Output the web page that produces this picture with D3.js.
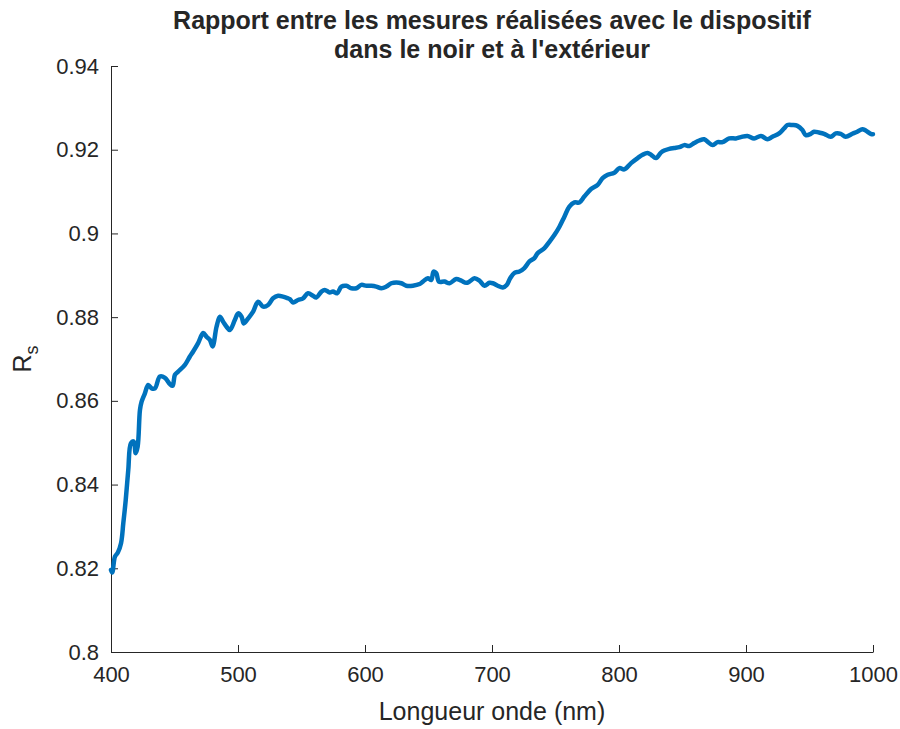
<!DOCTYPE html>
<html>
<head>
<meta charset="utf-8">
<script src="https://cdn.jsdelivr.net/npm/d3@7"></script>
<style>
  body { margin: 0; background: #fff; }
  svg text { font-family: "Liberation Sans", Arial, Helvetica, sans-serif; fill: #262626; }
</style>
</head>
<body>
<svg id="chart" width="900" height="729"></svg>
<script>
// Wavelength samples (nm)
const wavelength = [
  400, 401, 403.1, 405.3, 407.9, 409.7, 411.6, 413.6, 415.7, 417.9, 419.4, 421.0, 422.8, 424.1,
  426.7, 429.3, 432.0, 434.6, 438.5, 442.5, 446.4, 448.5, 450.3, 452.9, 458.2, 462.1, 464.7,
  468.6, 472.6, 475.3, 477.8, 480.0, 483.1, 485.7, 488.3, 491.0, 493.6, 497.5, 500.1, 502.8,
  504.6, 508.0, 511.9, 515.8, 519.8, 523.7, 527.6, 531.6, 535.5, 539.4, 540.8, 543.4, 547.3,
  551.2, 555.1, 559.1, 561.7, 565.7, 568.3, 572.2, 574.8, 578.0, 581.4, 585.3, 589.3, 593.2,
  597.1, 601.1, 605.0, 608.9, 612.9, 616.8, 620.7, 624.7, 628.6, 632.5, 637.7, 643.0, 645.6,
  649.5, 652.2, 654.0, 656.1, 658.2, 662.6, 666.6, 671.8, 675.8, 679.7, 682.3, 686.2, 690.2,
  694.1, 698.0, 700.6, 704.5, 708.5, 711.6, 714.3, 717.7, 721.6, 725.5, 729.5, 733.4, 736.0,
  741.3, 745.2, 749.1, 753.1, 757.0, 760.9, 764.9, 768.8, 772.7, 778.0, 783.2, 787.1, 791.1,
  796.3, 800.3, 804.2, 809.5, 814.7, 818.6, 822.5, 825.2, 829.1, 833.0, 835.6, 839.6, 843.5,
  847.5, 851.4, 855.3, 859.2, 863.2, 867.1, 871.0, 873.6, 877.6, 881.5, 886.8, 892.0, 895.9,
  901.1, 906.4, 911.7, 916.9, 920.8, 926.1, 930.0, 932.6, 936.5, 940.5, 944.4, 947.1, 951.0,
  953.6, 957.5, 961.5, 966.7, 970.7, 974.6, 978.5, 983.7, 987.6, 991.6, 994.2, 998.2, 1000
];

// Ratio R_s (dark / outdoor measurements)
const ratio = [
  0.8196, 0.8190, 0.8228, 0.8237, 0.8260, 0.8308, 0.8363, 0.8435, 0.8499, 0.8503, 0.8475, 0.8491, 0.8578, 0.8598,
  0.8618, 0.8638, 0.8630, 0.8630, 0.8658, 0.8655, 0.8640, 0.8636, 0.8662, 0.8670, 0.8686, 0.8706, 0.8718,
  0.8738, 0.8762, 0.8753, 0.8746, 0.8730, 0.8777, 0.8801, 0.8789, 0.8777, 0.8769, 0.8793, 0.8809, 0.8801,
  0.8785, 0.8797, 0.8813, 0.8837, 0.8825, 0.8829, 0.8845, 0.8851, 0.8849, 0.8845, 0.8843, 0.8835, 0.8841,
  0.8845, 0.8857, 0.8851, 0.8847, 0.8861, 0.8865, 0.8859, 0.8861, 0.8857, 0.8873, 0.8875, 0.8869, 0.8869,
  0.8877, 0.8875, 0.8875, 0.8873, 0.8869, 0.8873, 0.8881, 0.8883, 0.8881, 0.8875, 0.8875, 0.8879, 0.8885,
  0.8893, 0.8889, 0.8909, 0.8905, 0.8885, 0.8885, 0.8881, 0.8891, 0.8887, 0.8882, 0.8885, 0.8893, 0.8887,
  0.8875, 0.8882, 0.8881, 0.8875, 0.8871, 0.8877, 0.8893, 0.8906, 0.8909, 0.8917, 0.8933, 0.8941, 0.8953,
  0.8965, 0.8980, 0.8996, 0.9016, 0.9040, 0.9064, 0.9074, 0.9074, 0.9088, 0.9106, 0.9116, 0.9132, 0.9140,
  0.9145, 0.9156, 0.9153, 0.9168, 0.9180, 0.9188, 0.9192, 0.9188, 0.9180, 0.9193, 0.9198, 0.9202, 0.9204,
  0.9206, 0.9211, 0.9209, 0.9216, 0.9222, 0.9225, 0.9216, 0.9211, 0.9218, 0.9218, 0.9227, 0.9227, 0.9230,
  0.9233, 0.9227, 0.9233, 0.9225, 0.9231, 0.9239, 0.9251, 0.9259, 0.9259, 0.9257, 0.9247, 0.9235, 0.9238,
  0.9243, 0.9241, 0.9238, 0.9231, 0.9239, 0.9238, 0.9231, 0.9238, 0.9243, 0.9249, 0.9246, 0.9238, 0.9237
];

const xTicks = [400, 500, 600, 700, 800, 900, 1000];
const yTicks = [0.8, 0.82, 0.84, 0.86, 0.88, 0.9, 0.92, 0.94];
const titleLines = ["Rapport entre les mesures réalisées avec le dispositif", "dans le noir et à l'extérieur"];
const xLabel = "Longueur onde (nm)";

const margin = { left: 111, right: 27, top: 66, bottom: 77 };
const W = 900, H = 729;
const innerW = W - margin.left - margin.right;
const innerH = H - margin.top - margin.bottom;

const svg = d3.select("#chart");
const g = svg.append("g").attr("transform", `translate(${margin.left},${margin.top})`);

const x = d3.scaleLinear().domain([400, 1000]).range([0, innerW]);
const y = d3.scaleLinear().domain([0.8, 0.94]).range([innerH, 0]);

const axisColor = "#262626";

// Bottom axis with inward ticks
const xAxis = g.append("g")
  .attr("transform", `translate(0,${innerH})`)
  .call(d3.axisBottom(x).tickValues(xTicks).tickSizeInner(-7).tickSizeOuter(0).tickPadding(14)
    .tickFormat(d3.format("d")));
xAxis.selectAll("text").attr("font-size", 22).attr("fill", axisColor);

// Left axis with inward ticks
const yAxis = g.append("g")
  .call(d3.axisLeft(y).tickValues(yTicks).tickSizeInner(-7).tickSizeOuter(0).tickPadding(12)
    .tickFormat(d => String(+d.toFixed(2))));
yAxis.selectAll("text").attr("font-size", 22).attr("fill", axisColor);

[xAxis, yAxis].forEach(a => {
  a.select(".domain").attr("stroke", axisColor).attr("stroke-width", 1);
  a.selectAll(".tick line").attr("stroke", axisColor).attr("stroke-width", 1);
});

// Data line
const line = d3.line().x((d, i) => x(wavelength[i])).y(d => y(d)).curve(d3.curveCatmullRom.alpha(0.5));
g.append("path")
  .datum(ratio)
  .attr("fill", "none")
  .attr("stroke", "#0072BD")
  .attr("stroke-width", 4.5)
  .attr("stroke-linejoin", "round")
  .attr("stroke-linecap", "round")
  .attr("d", line);

// Title
const title = svg.append("text")
  .attr("x", margin.left + innerW / 2)
  .attr("text-anchor", "middle")
  .attr("font-size", 25)
  .attr("font-weight", "bold")
  .attr("fill", "#000");
titleLines.forEach((t, i) => {
  title.append("tspan").attr("x", margin.left + innerW / 2).attr("y", 29 + i * 29).text(t);
});

// X axis label
svg.append("text")
  .attr("x", margin.left + innerW / 2)
  .attr("y", 720)
  .attr("text-anchor", "middle")
  .attr("font-size", 25)
  .text(xLabel);

// Y axis label: R with subscript s
const yl = svg.append("text")
  .attr("transform", `translate(31,${margin.top + innerH / 2}) rotate(-90)`)
  .attr("text-anchor", "middle")
  .attr("font-size", 25);
yl.append("tspan").text("R");
yl.append("tspan").attr("font-size", 18).attr("dy", 7).text("s");
</script>
</body>
</html>
